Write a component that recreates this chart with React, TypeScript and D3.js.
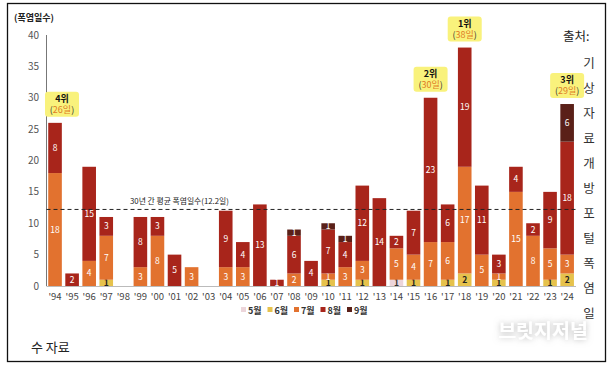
import React from "react";
import * as d3 from "d3";

const years = ["94","95","96","97","98","99","00","01","02","03","04","05","06","07","08","09","10","11","12","13","14","15","16","17","18","19","20","21","22","23","24"];
const may = [0,0,0,0,0,0,0,0,0,0,0,0,0,0,0,0,0,0,0,0,1,0,0,0,0,0,0,0,0,0,0];
const jun = [0,0,0,1,0,0,0,0,0,0,0,0,0,0,0,0,1,0,1,0,0,1,0,1,2,0,1,0,0,1,2];
const jul = [18,0,4,7,0,3,8,0,3,0,3,3,0,0,2,0,1,3,3,0,5,4,7,6,17,5,1,15,8,5,3];
const aug = [8,2,15,3,0,8,3,5,0,0,9,4,13,1,6,4,7,4,12,14,2,7,23,6,19,11,3,4,2,9,18];
const sep = [0,0,0,0,0,0,0,0,0,0,0,0,0,0,1,0,1,1,0,0,0,0,0,0,0,0,0,0,0,0,6];
const seriesKeys = ["m5","m6","m7","m8","m9"];
const seriesNames = ["5월","6월","7월","8월","9월"];
const seriesColors = ["#ecd5da","#e6c24c","#e2722f","#a8251b","#5a2018"];
const labelColors = ["#333","#222","#fff","#fff","#fff"];
const yTicks = [0,5,10,15,20,25,30,35,40];
const avgValue = 12.2;
const avgLabel = "30년 간 평균 폭염일수(12.2일)";
const rankYears = ["94","16","18","24"];
const rankLabels = ["4위","2위","1위","3위"];
const sourceHead = "출처:";
const sourceVertical = ["기","상","자","료","개","방","포","털","폭","염","일"];
const sourceTail = "수 자료";
const yTitle = "(폭염일수)";
const watermark = "브릿지저널";

const FONT = "'Noto Sans CJK KR', 'Noto Sans', sans-serif";

export default function App() {
  const rows = years.map((y, i) => ({ year: y, m5: may[i], m6: jun[i], m7: jul[i], m8: aug[i], m9: sep[i] }));
  const stack = d3.stack<any>().keys(seriesKeys)(rows);
  const x = d3.scalePoint<string>().domain(years).range([46.5, 46.5 + 31 * 17.07]).padding(0.5);
  const y = d3.scaleLinear().domain([0, 40]).range([286, 35]);
  const bw = 13.6;
  const totals = rows.map((r) => r.m5 + r.m6 + r.m7 + r.m8 + r.m9);

  return (
    <svg width={616} height={365} style={{ position: "absolute", left: 0, top: 0, fontFamily: FONT }}>
      <defs>
        <filter id="wm" x="-20%" y="-50%" width="140%" height="200%">
          <feGaussianBlur in="SourceAlpha" stdDeviation="3" result="b" />
          <feFlood floodColor="#9a9a9a" floodOpacity="0.7" />
          <feComposite in2="b" operator="in" result="s" />
          <feMerge>
            <feMergeNode in="s" />
            <feMergeNode in="SourceGraphic" />
          </feMerge>
        </filter>
      </defs>
      <rect x={0} y={0} width={616} height={365} fill="#fff" />
      <rect x={7.5} y={3.5} width={598} height={358} fill="none" stroke="#111" strokeWidth={1.3} />
      <text x={14} y={21} fontSize={9} fontWeight={700} fill="#222">{yTitle}</text>
      {yTicks.map((t) => (
        <text key={t} x={39} y={y(t) + 3.5} fontSize={10} fill="#555" textAnchor="end">{t}</text>
      ))}
      <line x1={46.5} x2={46.5} y1={y(40)} y2={y(0)} stroke="#777" strokeWidth={1} />
      {stack.map((s, si) =>
        s.map((d, i) => {
          const v = d[1] - d[0];
          if (v <= 0) return null;
          const cx = x(years[i])!;
          return (
            <g key={si + "-" + i}>
              <rect x={cx - bw / 2} y={y(d[1])} width={bw} height={y(d[0]) - y(d[1])} fill={seriesColors[si]} />
              <text x={cx} y={(y(d[0]) + y(d[1])) / 2 + 3} fontSize={8.5} fill={labelColors[si]} textAnchor="middle" fontWeight={si < 2 ? 700 : 400}>{v}</text>
            </g>
          );
        })
      )}
      <line x1={46.5} x2={576} y1={y(0) + 0.5} y2={y(0) + 0.5} stroke="#bbb" strokeWidth={1.2} />
      <line x1={46.5} x2={578} y1={y(avgValue)} y2={y(avgValue)} stroke="#222" strokeWidth={1} strokeDasharray="4,3" />
      <text x={130} y={y(avgValue) - 5} fontSize={7.8} fill="#222">{avgLabel}</text>
      {years.map((yr) => (
        <text key={yr} x={x(yr)!} y={300} fontSize={9.5} fill="#444" textAnchor="middle">{"'" + yr}</text>
      ))}
      {seriesNames.map((n, i) => {
        const lx = 241 + i * 26.5;
        return (
          <g key={n}>
            <rect x={lx} y={307} width={5} height={5} fill={seriesColors[i]} />
            <text x={lx + 7} y={313.5} fontSize={9} fontWeight={700} fill="#333">{n}</text>
          </g>
        );
      })}
      {rankYears.map((yr, k) => {
        const i = years.indexOf(yr);
        const cx = Math.max(x(yr)!, 62);
        const top = y(totals[i]) - 6;
        return (
          <g key={yr}>
            <rect x={cx - 17} y={top - 25} width={34} height={25} rx={3} fill="#f9f27c" />
            <text x={cx} y={top - 15} fontSize={9} fontWeight={700} fill="#111" textAnchor="middle">{rankLabels[k]}</text>
            <text x={cx} y={top - 4} fontSize={9} textAnchor="middle">
              <tspan fill="#333">(</tspan>
              <tspan fill="#e07d25">{totals[i] + "일"}</tspan>
              <tspan fill="#333">)</tspan>
            </text>
          </g>
        );
      })}
      <text x={563} y={41} fontSize={12.5} fill="#222">{sourceHead}</text>
      {sourceVertical.map((c, i) => (
        <text key={i} x={589} y={67.5 + i * 25} fontSize={12.5} fill="#333" textAnchor="middle">{c}</text>
      ))}
      <text x={31} y={352} fontSize={13} fill="#222">{sourceTail}</text>
      <text x={543} y={338} fontSize={19.5} fontWeight={700} fill="#fff" textAnchor="middle" filter="url(#wm)">{watermark}</text>
    </svg>
  );
}
